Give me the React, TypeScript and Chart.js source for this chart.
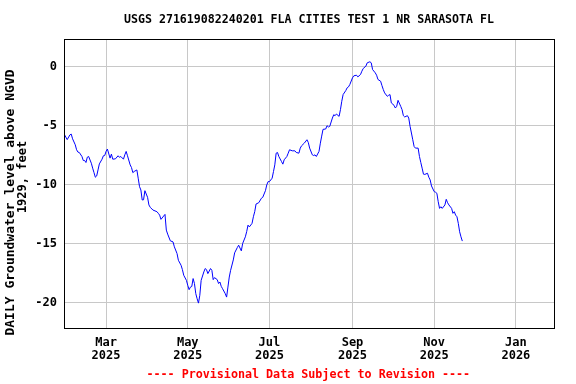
import React, { useEffect, useRef } from "react";
import { Chart, registerables } from "chart.js";

Chart.register(...registerables);

const TITLE = "USGS 271619082240201 FLA CITIES TEST 1 NR SARASOTA FL";
const Y_TITLE_LINE1 = "DAILY Groundwater level above NGVD";
const Y_TITLE_LINE2 = "1929, feet";
const FOOTER = "---- Provisional Data Subject to Revision ----";

// day number counted from 2025-01-01 (day 0)
const dayOfYear2025 = [
  28, 30, 32, 33, 34, 36, 37, 38, 39, 41, 42, 43, 44, 45, 46, 48, 49, 50, 51, 52,
  53, 54, 56, 57, 58, 59, 60, 62, 63, 64, 66, 68, 69, 70, 72, 73, 74, 75, 77, 78,
  79, 80, 82, 83, 84, 85, 86, 87, 88, 90, 91, 92, 94, 97, 98, 99, 100, 102, 103, 104,
  105, 107, 109, 110, 112, 113, 115, 116, 117, 119, 120, 121, 122, 123, 124, 125, 126, 127, 128, 129,
  130, 132, 133, 134, 135, 137, 138, 139, 140, 142, 143, 144, 145, 146, 148, 149, 150, 151, 152, 154,
  155, 157, 158, 160, 161, 163, 164, 165, 166, 168, 169, 170, 171, 173, 175, 176, 178, 179, 180, 181,
  183, 184, 185, 186, 187, 188, 190, 191, 192, 194, 195, 196, 198, 200, 201, 203, 204, 205, 207, 209,
  210, 211, 213, 214, 215, 216, 218, 219, 220, 221, 223, 224, 225, 226, 228, 229, 230, 231, 233, 234,
  235, 236, 238, 239, 240, 241, 243, 244, 246, 247, 249, 250, 251, 253, 254, 256, 257, 258, 260, 261,
  262, 264, 265, 266, 267, 269, 270, 271, 272, 274, 275, 276, 277, 279, 280, 281, 282, 284, 285, 286,
  287, 288, 289, 290, 292, 293, 294, 295, 296, 297, 299, 300, 301, 302, 304, 305, 306, 307, 308, 309,
  310, 312, 313, 314, 315, 317, 318, 319, 320, 321, 322, 323, 324, 325,
];

const levelFeet = [
  -5.79, -6.2, -5.8, -5.73, -6.13, -6.64, -7.06, -7.26, -7.29, -7.63, -7.97, -7.97, -8.14, -7.69, -7.63, -8.2, -8.62, -9.0, -9.39, -9.28,
  -8.77, -8.26, -7.86, -7.57, -7.55, -7.2, -7.0, -7.77, -7.43, -7.86, -7.83, -7.57, -7.7, -7.63, -7.86, -7.49, -7.2, -7.57, -8.34, -8.57,
  -9.0, -8.9, -8.77, -9.47, -10.19, -10.47, -11.32, -11.3, -10.53, -11.09, -11.74, -11.94, -12.17, -12.31, -12.45, -12.6, -12.96, -12.68, -12.54, -13.87,
  -14.21, -14.78, -14.87, -15.29, -15.86, -16.43, -16.85, -17.22, -17.7, -18.13, -18.55, -18.92, -18.7, -18.65, -17.98, -18.4, -19.26, -19.69, -20.06, -19.4,
  -18.13, -17.42, -17.13, -17.22, -17.56, -17.13, -17.28, -18.07, -17.9, -18.07, -18.4, -18.27, -18.64, -18.84, -19.26, -19.55, -18.7, -17.85, -17.28, -16.4,
  -15.8, -15.35, -15.15, -15.63, -15.0, -14.44, -14.0, -13.45, -13.6, -13.3, -12.74, -12.31, -11.66, -11.55, -11.17, -11.09, -10.53, -10.04, -9.76, -9.76,
  -9.47, -8.91, -8.34, -7.35, -7.29, -7.63, -8.06, -8.28, -7.91, -7.63, -7.35, -7.06, -7.15, -7.15, -7.29, -7.35, -6.92, -6.72, -6.5, -6.21,
  -6.44, -6.92, -7.49, -7.55, -7.49, -7.63, -7.2, -6.5, -5.9, -5.33, -5.3, -5.02, -5.13, -5.08, -4.37, -4.09, -4.17, -4.03, -4.23, -3.66,
  -2.95, -2.38, -2.04, -1.81, -1.73, -1.53, -0.96, -0.79, -0.74, -0.88, -0.68, -0.4, -0.17, 0.03, 0.31, 0.4, 0.31, -0.26, -0.54, -0.74,
  -1.1, -1.25, -1.62, -1.96, -2.24, -2.53, -2.44, -2.38, -3.09, -3.29, -3.52, -3.38, -2.87, -3.38, -3.66, -4.17, -4.28, -4.17, -4.37, -5.08,
  -5.64, -6.21, -6.78, -6.92, -6.92, -7.63, -8.14, -8.62, -9.13, -9.15, -9.05, -9.39, -9.62, -10.13, -10.61, -10.66, -10.75, -11.46, -12.03, -11.89,
  -12.03, -11.74, -11.26, -11.55, -11.74, -12.03, -12.45, -12.31, -12.6, -12.74, -13.3, -14.01, -14.44, -14.8,
];

const xTickDates = ["2025-03-01", "2025-05-01", "2025-07-01", "2025-09-01", "2025-11-01", "2026-01-01"];
const xTickMonths = ["Mar", "May", "Jul", "Sep", "Nov", "Jan"];
const xTickYears = ["2025", "2025", "2025", "2025", "2025", "2026"];
const yTickValues = [0, -5, -10, -15, -20];

const X_MIN = 27.6;
const X_MAX = 394.2;
const Y_MIN = -22.17;
const Y_MAX = 2.33;

const FONT = "'DejaVu Sans Mono', 'Liberation Mono', monospace";

function dayNumber(iso: string): number {
  const [y, m, d] = iso.split("-").map(Number);
  return (Date.UTC(y, m - 1, d) - Date.UTC(2025, 0, 1)) / 86400000;
}

const xTickDays = xTickDates.map(dayNumber);

const textPlugin = {
  id: "usgsText",
  afterDraw(chart: any) {
    const { ctx, chartArea } = chart;
    ctx.save();
    // plot frame
    ctx.strokeStyle = "#000";
    ctx.lineWidth = 1;
    ctx.strokeRect(
      chartArea.left + 0.5,
      chartArea.top + 0.5,
      chartArea.right - chartArea.left - 1,
      chartArea.bottom - chartArea.top
    );
    // title
    ctx.fillStyle = "#000";
    ctx.textAlign = "center";
    ctx.textBaseline = "middle";
    ctx.font = `bold 11.6px ${FONT}`;
    ctx.fillText(TITLE, 309, 20);
    // y axis title
    ctx.save();
    ctx.translate(11, 202.5);
    ctx.rotate(-Math.PI / 2);
    ctx.font = `bold 13px ${FONT}`;
    ctx.fillText(Y_TITLE_LINE1, 0, 0);
    ctx.restore();
    ctx.save();
    ctx.translate(23.3, 177);
    ctx.rotate(-Math.PI / 2);
    ctx.font = `bold 12px ${FONT}`;
    ctx.fillText(Y_TITLE_LINE2, 0, 0);
    ctx.restore();
    // footer
    ctx.fillStyle = "#ff0000";
    ctx.font = `bold 11.7px ${FONT}`;
    ctx.fillText(FOOTER, 308.3, 375);
    ctx.restore();
  },
};

export default function App() {
  const canvasRef = useRef<HTMLCanvasElement | null>(null);

  useEffect(() => {
    document.body.style.margin = "0";
    const canvas = canvasRef.current;
    if (!canvas) return;
    const n = Math.min(dayOfYear2025.length, levelFeet.length);
    const points = [];
    for (let i = 0; i < n; i++) points.push({ x: dayOfYear2025[i], y: levelFeet[i] });

    const tickFont = { family: FONT, size: 12, weight: "bold" as const, lineHeight: 1.06 };

    const chart = new Chart(canvas, {
      type: "line",
      data: {
        datasets: [
          {
            data: points,
            borderColor: "#0000ff",
            borderWidth: 1,
            pointRadius: 0,
            tension: 0,
            fill: false,
          },
        ],
      },
      plugins: [textPlugin],
      options: {
        animation: false,
        responsive: false,
        devicePixelRatio: 1,
        events: [],
        layout: { padding: { top: 39, right: 21, left: 0, bottom: 0 } },
        plugins: {
          legend: { display: false },
          title: { display: false },
          tooltip: { enabled: false },
        },
        scales: {
          x: {
            type: "linear",
            min: X_MIN,
            max: X_MAX,
            afterBuildTicks: (scale: any) => {
              scale.ticks = xTickDays.map((v) => ({ value: v }));
            },
            afterFit: (scale: any) => {
              scale.height = 56;
            },
            grid: { color: "#c8c8c8", lineWidth: 1, drawTicks: false },
            border: { display: false },
            ticks: {
              autoSkip: false,
              maxRotation: 0,
              minRotation: 0,
              padding: 9,
              color: "#000",
              font: tickFont,
              callback: (value: any) => {
                const i = xTickDays.indexOf(Number(value));
                return i >= 0 ? [xTickMonths[i], xTickYears[i]] : "";
              },
            },
          },
          y: {
            type: "linear",
            min: Y_MIN,
            max: Y_MAX,
            afterBuildTicks: (scale: any) => {
              scale.ticks = yTickValues.map((v) => ({ value: v }));
            },
            afterFit: (scale: any) => {
              scale.width = 64;
            },
            grid: { color: "#c8c8c8", lineWidth: 1, drawTicks: false },
            border: { display: false },
            ticks: {
              padding: 7,
              color: "#000",
              font: tickFont,
              callback: (value: any) => `${value}`,
            },
          },
        },
      },
    });
    return () => chart.destroy();
  }, []);

  return (
    <div style={{ width: 576, height: 384 }}>
      <canvas ref={canvasRef} width={576} height={384} style={{ display: "block", width: 576, height: 384 }} />
    </div>
  );
}
